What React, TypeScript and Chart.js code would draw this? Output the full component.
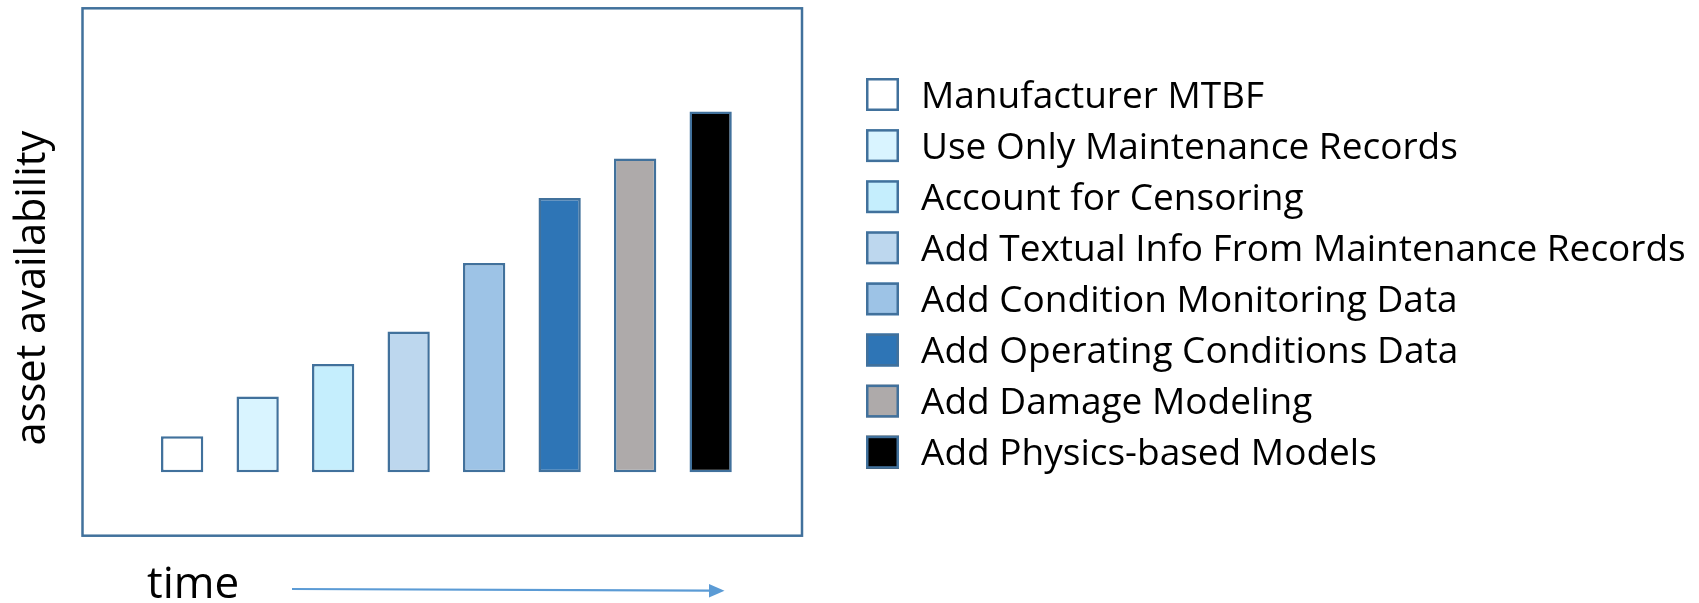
import React, { useEffect, useRef } from "react";
import { Chart, registerables } from "chart.js";

Chart.register(...registerables);

// Modelling stages, in the order they are added over time
const categories = [
  "Manufacturer MTBF",
  "Use Only Maintenance Records",
  "Account for Censoring",
  "Add Textual Info From Maintenance Records",
  "Add Condition Monitoring Data",
  "Add Operating Conditions Data",
  "Add Damage Modeling",
  "Add Physics-based Models",
];

// Relative asset availability reached at each stage
const availability = [1.0, 2.1, 3.0, 3.9, 5.8, 7.6, 8.7, 10.0];

const fillColors = [
  "#FFFFFF",
  "#D9F4FF",
  "#C5EEFD",
  "#BDD7EE",
  "#9DC3E6",
  "#2E75B6",
  "#AEAAAA",
  "#000000",
];

const yAxisTitle = "asset availability";
const xAxisTitle = "time";

const EDGE = "#41719C";
const ARROW = "#5B9BD5";
const FONT = "'Open Sans', 'Noto Sans', sans-serif";

// Frame, axis titles, time arrow and the legend column
const decorations = {
  id: "decorations",
  afterDraw(chart: Chart) {
    const { ctx, chartArea: a } = chart;
    ctx.save();

    // plot frame
    ctx.strokeStyle = EDGE;
    ctx.lineWidth = 2.5;
    ctx.strokeRect(a.left, a.top, a.right - a.left, a.bottom - a.top);

    // y title (rotated)
    ctx.fillStyle = "#000000";
    ctx.font = `41.5px ${FONT}`;
    ctx.textAlign = "center";
    ctx.textBaseline = "alphabetic";
    ctx.save();
    ctx.translate(45, a.top + (a.bottom - a.top) / 2 + 16);
    ctx.rotate(-Math.PI / 2);
    ctx.fillText(yAxisTitle, 0, 0);
    ctx.restore();

    // x title with arrow
    ctx.font = `44px ${FONT}`;
    ctx.textAlign = "left";
    ctx.fillText(xAxisTitle, 147, 598);

    ctx.strokeStyle = ARROW;
    ctx.lineWidth = 2.2;
    ctx.beginPath();
    ctx.moveTo(292, 589);
    ctx.lineTo(710, 590.7);
    ctx.stroke();
    ctx.fillStyle = ARROW;
    ctx.beginPath();
    ctx.moveTo(709, 584);
    ctx.lineTo(724.5, 590.8);
    ctx.lineTo(709, 597.4);
    ctx.closePath();
    ctx.fill();

    // legend
    const boxX = 866;
    const box = 33;
    const firstRow = 94.5;
    const rowGap = 51.1;
    ctx.font = `37px ${FONT}`;
    ctx.textAlign = "left";
    categories.forEach((label, i) => {
      const cy = firstRow + i * rowGap;
      ctx.fillStyle = fillColors[i];
      ctx.fillRect(boxX, cy - box / 2, box, box);
      ctx.strokeStyle = EDGE;
      ctx.lineWidth = 2.5;
      ctx.strokeRect(boxX + 1.25, cy - box / 2 + 1.25, box - 2.5, box - 2.5);
      ctx.fillStyle = "#000000";
      ctx.fillText(label, 921, cy + 13);
    });

    ctx.restore();
  },
};

export default function App() {
  const canvasRef = useRef<HTMLCanvasElement | null>(null);

  useEffect(() => {
    if (!canvasRef.current) return;
    const chart = new Chart(canvasRef.current, {
      type: "bar",
      data: {
        datasets: [
          {
            label: yAxisTitle,
            data: availability.map((v, i) => ({ x: i, y: v })),
            backgroundColor: fillColors,
            borderColor: EDGE,
            borderWidth: 2.5,
            borderSkipped: false,
            categoryPercentage: 1,
            barPercentage: 0.56,
          },
        ],
      },
      options: {
        animation: false,
        responsive: true,
        maintainAspectRatio: false,
        layout: {
          padding: { left: 82.5, top: 8.3, right: 1699 - 802, bottom: 603 - 535.7 },
        },
        plugins: {
          legend: { display: false },
          tooltip: { enabled: false },
        },
        scales: {
          x: {
            type: "linear",
            display: false,
            offset: false,
            min: -1.32,
            max: 8.21,
          },
          y: {
            type: "linear",
            display: false,
            min: -1.757,
            max: 12.86,
          },
        },
      },
      plugins: [decorations],
    });
    return () => chart.destroy();
  }, []);

  return (
    <div
      style={{
        position: "absolute",
        left: 0,
        top: 0,
        width: 1699,
        height: 603,
        background: "#FFFFFF",
      }}
    >
      <canvas ref={canvasRef} />
    </div>
  );
}
